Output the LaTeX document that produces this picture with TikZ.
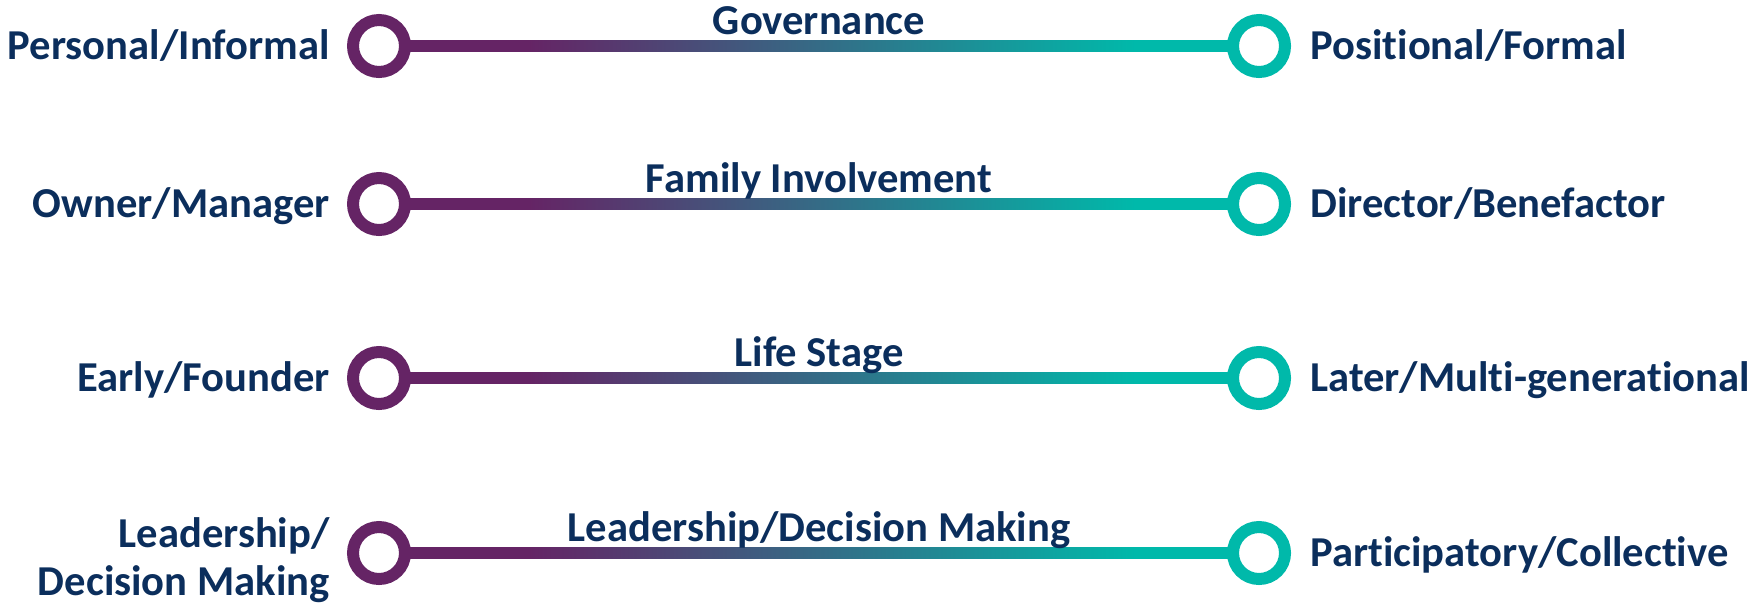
\documentclass[tikz,border=0pt]{standalone}
\usepackage{fontspec}
\setmainfont{Carlito}[Ligatures=NoCommon]
\usetikzlibrary{positioning,backgrounds}

\definecolor{plum}{RGB}{101,36,101}
\definecolor{jade}{RGB}{0,185,170}
\definecolor{navy}{RGB}{11,46,92}

\pgfdeclarehorizontalshading{barshade}{100bp}{color(0bp)=(plum); color(33.5bp)=(plum); color(68bp)=(jade); color(100bp)=(jade)}

\tikzset{
  txt/.style={font=\bfseries\fontsize{21.3pt}{24pt}\selectfont, text=navy, inner sep=0pt},
  side/.style={txt, text height=13.4pt, text depth=0pt},
  title/.style={txt, anchor=base},
  endpt/.style={circle, draw=#1, line width=6pt, fill=white, minimum size=26pt, inner sep=0pt},
  bar/.style={shading=barshade}
}

\begin{document}
\begin{tikzpicture}[x=0.5pt, y=-0.5pt]
  \useasboundingbox (0,0) rectangle (1764,606);

  \node[endpt=plum] (lc1) at (379,46) {};
  \node[endpt=jade] (rc1) at (1259,46) {};
  \node[endpt=plum] (lc2) at (379,204) {};
  \node[endpt=jade] (rc2) at (1259,204) {};
  \node[endpt=plum] (lc3) at (379,378) {};
  \node[endpt=jade] (rc3) at (1259,378) {};
  \node[endpt=plum] (lc4) at (379,553) {};
  \node[endpt=jade] (rc4) at (1259,553) {};

  \begin{pgfonlayer}{background}
    \fill[bar] ([yshift=-2.75pt]lc1.center) rectangle ([yshift=2.75pt]rc1.center);
    \fill[bar] ([yshift=-2.75pt]lc2.center) rectangle ([yshift=2.75pt]rc2.center);
    \fill[bar] ([yshift=-2.75pt]lc3.center) rectangle ([yshift=2.75pt]rc3.center);
    \fill[bar] ([yshift=-2.75pt]lc4.center) rectangle ([yshift=2.75pt]rc4.center);
  \end{pgfonlayer}

  \node[title] (t1) at (819,34) {Governance};
  \node[title] (t2) at (819,192) {Family Involvement};
  \node[title] (t3) at (819,366) {Life Stage};
  \node[title] (t4) at (819,541) {Leadership/Decision Making};

  \node[side, left=8.5pt of lc1] (l1) {Personal/Informal};
  \node[side, left=8.5pt of lc2] (l2) {Owner/Manager};
  \node[side, left=8.5pt of lc3] (l3) {Early/Founder};
  \node[txt, align=right, left=8.5pt of lc4, yshift=-3.5pt] (l4) {Leadership/\\Decision Making};

  \node[side, right=9.5pt of rc1] (r1) {Positional/Formal};
  \node[side, right=9.5pt of rc2] (r2) {Director/Benefactor};
  \node[side, right=9.5pt of rc3] (r3) {Later/Multi-generational};
  \node[side, right=9.5pt of rc4] (r4) {Participatory/Collective};
\end{tikzpicture}
\end{document}
